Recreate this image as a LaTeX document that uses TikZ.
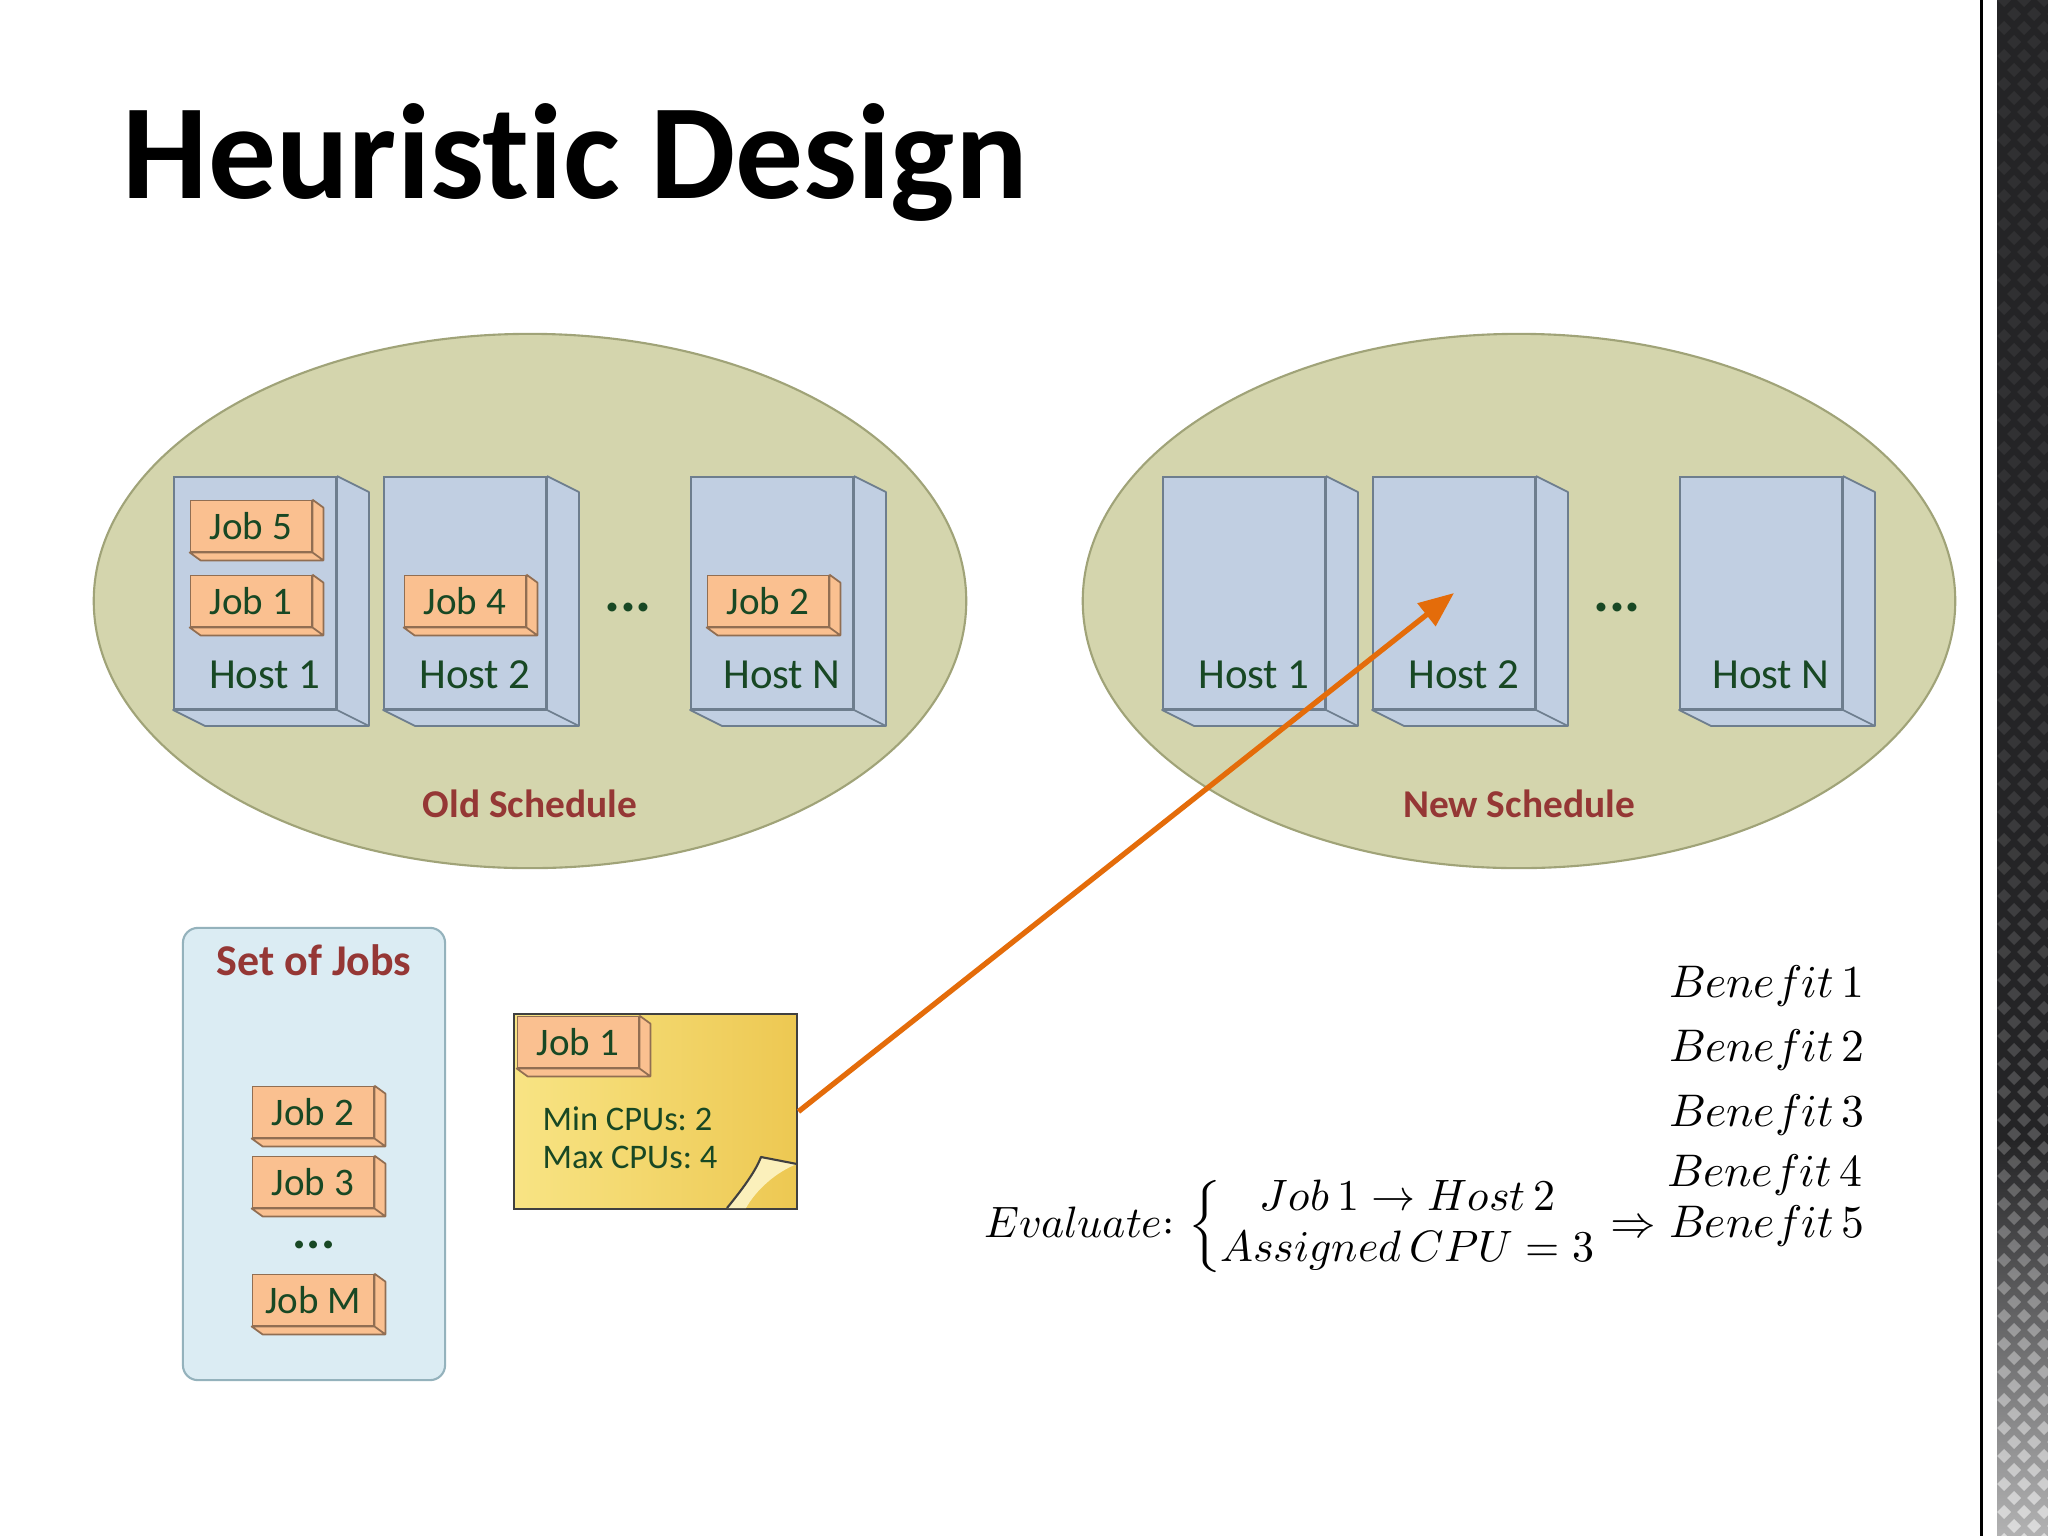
\documentclass[tikz,border=0pt]{standalone}
\usepackage{fontspec}
\usepackage{unicode-math}
\setmainfont{Carlito}[Ligatures=NoCommon]
\setmathfont{Latin Modern Math}
\usetikzlibrary{arrows.meta,positioning,shapes.geometric}
\frenchspacing

\definecolor{schedfill}{RGB}{212,213,173}
\definecolor{schedline}{RGB}{160,163,120}
\definecolor{hostfill}{RGB}{193,207,226}
\definecolor{hostline}{RGB}{110,126,142}
\definecolor{jobfill}{RGB}{250,192,144}
\definecolor{jobline}{RGB}{145,110,82}
\definecolor{lbl}{RGB}{24,72,36}
\definecolor{darkred}{RGB}{149,55,53}
\definecolor{setfill}{RGB}{219,236,243}
\definecolor{setline}{RGB}{148,178,188}
\definecolor{notelight}{RGB}{248,228,132}
\definecolor{notedark}{RGB}{237,200,82}
\definecolor{notebord}{RGB}{64,64,64}
\definecolor{arrorange}{RGB}{228,108,10}
\definecolor{stripdark}{RGB}{36,36,38}

\begin{document}
\begin{tikzpicture}[x=0.01cm,y=-0.01cm,
		sched/.style={ellipse,draw=schedline,fill=schedfill,line width=0.6pt,minimum width=8.72cm,minimum height=5.34cm,inner sep=0pt},
		host/.style={draw=hostline,fill=hostfill,line width=0.5pt,minimum width=1.62cm,minimum height=2.32cm,inner sep=0pt},
		hostside/.style={draw=hostline,fill=hostfill,line width=0.5pt,line join=round},
		job/.style={draw=jobline,fill=jobfill,line width=0.5pt,minimum width=1.21cm,minimum height=0.51cm,inner sep=0pt,text=lbl,font=\fontsize{11.1}{13}\selectfont},
		jobside/.style={draw=jobline,fill=jobfill,line width=0.5pt,line join=round},
		hostlbl/.style={text=lbl,anchor=base,inner sep=0pt,font=\fontsize{12.2}{14}\selectfont},
		schedlbl/.style={text=darkred,anchor=base,inner sep=0pt,font=\bfseries\fontsize{11.2}{13}\selectfont},
		moredots/.style={text=lbl,inner sep=0pt,font=\bfseries\fontsize{17}{17}\selectfont},
		setbox/.style={draw=setline,fill=setfill,line width=0.6pt,rounded corners=0.15cm,minimum width=2.62cm,minimum height=4.52cm,inner sep=0pt},
		note/.style={draw=notebord,line width=0.8pt,left color=notelight,right color=notedark,minimum width=2.83cm,minimum height=1.95cm,inner sep=0pt},
		fold/.style={fill=notelight!55!white},
		foldline/.style={draw=notebord,line width=0.6pt,line join=round},
		notetxt/.style={text=lbl,anchor=base west,inner sep=0pt,font=\fontsize{9.8}{12}\selectfont},
		mathtxt/.style={inner sep=0pt,font=\fontsize{13}{14.5}\selectfont},
		titletxt/.style={anchor=base west,inner sep=0pt,font=\bfseries\fontsize{38.5}{44}\selectfont},
		arr/.style={draw=arrorange,line width=1.5pt,-{Triangle[length=10pt,width=8pt]}}]

		\useasboundingbox (0,0) rectangle (2048,1536);
		\fill[white] (0,0) rectangle (2048,1536);

		% right border
		\fill[black] (1980,0) rectangle (1983,1536);
		\fill[stripdark] (1997,0) rectangle (2048,1140);
		\shade[top color=stripdark,bottom color=stripdark!35] (1997,1140) rectangle (2048,1536);
		\begin{scope}
			\clip (1997,0) rectangle (2048,1536);
			\foreach \r in {0,...,110} {
				\pgfmathsetmacro\op{0.06+0.5*(\r/110)^4}
				\pgfmathsetmacro\dx{mod(\r,2)*10}
				\foreach \c in {0,1,2} {
					\fill[white,opacity=\op] (1997+\dx+20*\c,14*\r) -- ++(7,-7) -- ++(7,7) -- ++(-7,7) -- cycle;
				}
			}
		\end{scope}

		\node[titletxt] (title) at (122,198) {Heuristic Design};

		% old schedule
		\node[sched] (olds) at (530,601) {};
		\node[host] (oh1) at (255,593) {};
		\node[host] (oh2) at (465,593) {};
		\node[host] (ohN) at (772,593) {};
		\filldraw[hostside] (oh1.north east) -- ++(32,16) |- ([shift={(32,16)}]oh1.south west) -- (oh1.south west) -| (oh1.north east) (oh1.south east) -- ++(32,16);
		\filldraw[hostside] (oh2.north east) -- ++(32,16) |- ([shift={(32,16)}]oh2.south west) -- (oh2.south west) -| (oh2.north east) (oh2.south east) -- ++(32,16);
		\filldraw[hostside] (ohN.north east) -- ++(32,16) |- ([shift={(32,16)}]ohN.south west) -- (ohN.south west) -| (ohN.north east) (ohN.south east) -- ++(32,16);
		\node[hostlbl] (oh1t) at ([shift={(10,-21)}]oh1.south) {Host 1};
		\node[hostlbl] (oh2t) at ([shift={(10,-21)}]oh2.south) {Host 2};
		\node[hostlbl] (ohNt) at ([shift={(10,-21)}]ohN.south) {Host N};

		\node[job] (oj5) at (251,526) {Job 5};
		\node[job] (oj1) at (251,601) {Job 1};
		\node[job] (oj4) at (465,601) {Job 4};
		\node[job] (oj2) at (768,601) {Job 2};
		\filldraw[jobside] (oj5.north east) -- ++(11,8) |- ([shift={(11,8)}]oj5.south west) -- (oj5.south west) -| (oj5.north east) (oj5.south east) -- ++(11,8);
		\filldraw[jobside] (oj1.north east) -- ++(11,8) |- ([shift={(11,8)}]oj1.south west) -- (oj1.south west) -| (oj1.north east) (oj1.south east) -- ++(11,8);
		\filldraw[jobside] (oj4.north east) -- ++(11,8) |- ([shift={(11,8)}]oj4.south west) -- (oj4.south west) -| (oj4.north east) (oj4.south east) -- ++(11,8);
		\filldraw[jobside] (oj2.north east) -- ++(11,8) |- ([shift={(11,8)}]oj2.south west) -- (oj2.south west) -| (oj2.north east) (oj2.south east) -- ++(11,8);

		\node[moredots] (odots) at (628,607) {...};
		\node[schedlbl] (oldt) at (530,817) {Old Schedule};

		% new schedule
		\node[sched] (news) at (1519,601) {};
		\node[host] (nh1) at (1244,593) {};
		\node[host] (nh2) at (1454,593) {};
		\node[host] (nhN) at (1761,593) {};
		\filldraw[hostside] (nh1.north east) -- ++(32,16) |- ([shift={(32,16)}]nh1.south west) -- (nh1.south west) -| (nh1.north east) (nh1.south east) -- ++(32,16);
		\filldraw[hostside] (nh2.north east) -- ++(32,16) |- ([shift={(32,16)}]nh2.south west) -- (nh2.south west) -| (nh2.north east) (nh2.south east) -- ++(32,16);
		\filldraw[hostside] (nhN.north east) -- ++(32,16) |- ([shift={(32,16)}]nhN.south west) -- (nhN.south west) -| (nhN.north east) (nhN.south east) -- ++(32,16);
		\node[hostlbl] (nh1t) at ([shift={(10,-21)}]nh1.south) {Host 1};
		\node[hostlbl] (nh2t) at ([shift={(10,-21)}]nh2.south) {Host 2};
		\node[hostlbl] (nhNt) at ([shift={(10,-21)}]nhN.south) {Host N};

		\node[moredots] (ndots) at (1617,607) {...};
		\node[schedlbl] (newt) at (1519,817) {New Schedule};

		% set of jobs
		\node[setbox] (set) at (314,1154) {};
		\node[schedlbl,font=\bfseries\fontsize{12.5}{14}\selectfont] (sett) at (314,975) {Set of Jobs};
		\node[job] (sj2) at (313,1112) {Job 2};
		\node[job] (sj3) at (313,1182) {Job 3};
		\node[job] (sjM) at (313,1300) {Job M};
		\filldraw[jobside] (sj2.north east) -- ++(11,8) |- ([shift={(11,8)}]sj2.south west) -- (sj2.south west) -| (sj2.north east) (sj2.south east) -- ++(11,8);
		\filldraw[jobside] (sj3.north east) -- ++(11,8) |- ([shift={(11,8)}]sj3.south west) -- (sj3.south west) -| (sj3.north east) (sj3.south east) -- ++(11,8);
		\filldraw[jobside] (sjM.north east) -- ++(11,8) |- ([shift={(11,8)}]sjM.south west) -- (sjM.south west) -| (sjM.north east) (sjM.south east) -- ++(11,8);
		\node[moredots,font=\bfseries\fontsize{15}{15}\selectfont] (sdots) at (314,1245) {...};

		% job note
		\node[note] (note) at (655.5,1111.5) {};
		\fill[fold] (727,1208) .. controls (745,1186) and (756,1170) .. (761,1157) -- (797,1164) .. controls (776,1172) and (756,1190) .. (746,1208) -- cycle;
		\draw[foldline] (727,1208) .. controls (745,1186) and (756,1170) .. (761,1157) -- (797,1164);
		\node[job] (nj1) at (578,1042) {Job 1};
		\filldraw[jobside] (nj1.north east) -- ++(11,8) |- ([shift={(11,8)}]nj1.south west) -- (nj1.south west) -| (nj1.north east) (nj1.south east) -- ++(11,8);
		\node[notetxt] (minc) at (542,1130) {Min CPUs: 2};
		\node[notetxt] (maxc) at (542,1168) {Max CPUs: 4};

		\draw[arr] (note.east) -- (nh2.center);

		% evaluation
		\node[mathtxt,anchor=base west,font=\fontsize{12.5}{14.5}\selectfont] (eval) at (984,1237) {$Evaluate{:}\,\left\{\begin{array}{@{}c@{}}Job\,1\rightarrow Host\,2\\ Assigned\,CPU=3\end{array}\right.$};
		\node[mathtxt,anchor=base east] (ben1) at (1865,997) {$Benefit\,1$};
		\node[mathtxt,anchor=base east] (ben2) at (1865,1061) {$Benefit\,2$};
		\node[mathtxt,anchor=base east] (ben3) at (1865,1126) {$Benefit\,3$};
		\node[mathtxt,anchor=base east] (ben4) at (1863,1186) {$Benefit\,4$};
		\node[mathtxt,anchor=base east] (ben5) at (1865,1237) {$\Rightarrow Benefit\,5$};
	\end{tikzpicture}
\end{document}
